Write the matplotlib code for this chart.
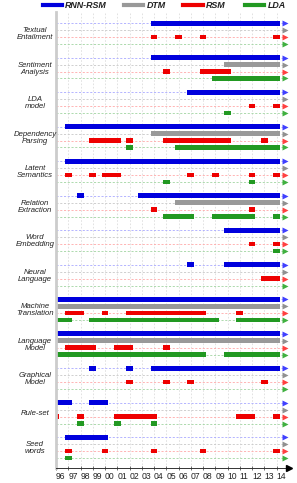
import matplotlib
matplotlib.use("Agg")
import matplotlib.pyplot as plt
import matplotlib.transforms as mtransforms
from matplotlib.lines import Line2D

plt.rcParams['font.family'] = ['Liberation Sans', 'DejaVu Sans']

categories = ["Textual\nEntailment", "Sentiment\nAnalysis", "LDA\nmodel",
              "Dependency\nParsing", "Latent\nSemantics", "Relation\nExtraction",
              "Word\nEmbedding", "Neural\nLanguage", "Machine\nTranslation",
              "Language\nModel", "Graphical\nModel", "Rule-set", "Seed\nwords"]

models = ["RNN-RSM", "DTM", "RSM", "LDA"]
years = list(range(1996, 2015))

# (first year, last year) spans per category
rnn_rsm = [
    [(2004, 2014)],
    [(2004, 2014)],
    [(2007, 2014)],
    [(1997, 2014)],
    [(1997, 2014)],
    [(1998, 1998), (2003, 2014)],
    [(2010, 2014)],
    [(2007, 2007), (2010, 2014)],
    [(1996, 2014)],
    [(1996, 2014)],
    [(1999, 1999), (2002, 2002), (2004, 2014)],
    [(1996, 1997), (1999, 2000)],
    [(1997, 2000)],
]

dtm = [
    [], [(2010, 2014)], [], [(2004, 2014)], [], [(2006, 2014)], [], [],
    [(1996, 2014)], [(1996, 2014)], [], [], [],
]

rsm = [
    [(2004, 2004), (2006, 2006), (2008, 2008), (2014, 2014)],
    [(2005, 2005), (2008, 2010)],
    [(2012, 2012), (2014, 2014)],
    [(1999, 2001), (2002, 2002), (2005, 2010), (2013, 2013)],
    [(1997, 1997), (1999, 1999), (2000, 2001), (2007, 2007), (2009, 2009),
     (2012, 2012), (2014, 2014)],
    [(2004, 2004), (2012, 2012)],
    [(2012, 2012), (2014, 2014)],
    [(2013, 2014)],
    [(1997, 1998), (2000, 2000), (2002, 2008), (2011, 2011)],
    [(1997, 1999), (2001, 2002), (2005, 2005)],
    [(2002, 2002), (2005, 2005), (2007, 2007), (2013, 2013)],
    [(1996, 1996), (1998, 1998), (2001, 2004), (2011, 2012), (2014, 2014)],
    [(1997, 1997), (2000, 2000), (2004, 2004), (2008, 2008), (2014, 2014)],
]

lda = [
    [],
    [(2009, 2014)],
    [(2010, 2010)],
    [(2002, 2002), (2006, 2014)],
    [(2005, 2005), (2012, 2012)],
    [(2005, 2007), (2009, 2012), (2014, 2014)],
    [(2014, 2014)],
    [],
    [(1996, 1997), (1999, 2009), (2011, 2014)],
    [(1996, 2008), (2010, 2014)],
    [],
    [(1998, 1998), (2001, 2001), (2004, 2004)],
    [(1997, 1997)],
]

series = [rnn_rsm, dtm, rsm, lda]
bar_colors = ['#0000dd', '#999999', '#ee0000', '#229922']
row_colors = ['#a8a8ff', '#c8c8c8', '#ffa8a8', '#a0d4a0']
arrow_colors = ['#4040ff', '#909090', '#ff4040', '#40b040']

W, H = 297, 483
fig = plt.figure(figsize=(W / 100, H / 100), dpi=100)
ax_l, ax_r, ax_t, ax_b = 56, 291, 12.3, 468.3
ax = fig.add_axes([ax_l / W, 1 - ax_b / H, (ax_r - ax_l) / W, (ax_b - ax_t) / H])

px_per_year = 12.25
ax.set_xlim(1996, 1996 + (ax_r - ax_l) / px_per_year)
row_px = 6.9
ax.set_ylim((ax_b - 23.3) / row_px, (ax_t - 23.3) / row_px)

# vertical grid
for y in years[1:]:
    ax.axvline(y, color='#dddddd', lw=0.6, ls=(0, (2, 2)), zorder=0)

hw = 0.27
x_arrow = 1996 + (285 - ax_l) / px_per_year
for i, cat in enumerate(categories):
    for r, spans in enumerate(series):
        yrow = 5 * i + r
        ax.plot([1996, x_arrow], [yrow, yrow], color=row_colors[r], lw=0.6,
                ls=(0, (2.5, 2)), zorder=1)
        ax.plot([x_arrow], [yrow], marker='>', ms=3.8, color=arrow_colors[r],
                mec='none', clip_on=False, zorder=3)
        for a, b in spans[i]:
            ax.barh(yrow, b - a + 2 * hw, left=a - hw, height=0.68,
                    color=bar_colors[r], linewidth=0, zorder=2)

trans = mtransforms.blended_transform_factory(fig.transFigure, ax.transData)
for i, cat in enumerate(categories):
    ax.text(35 / W, 5 * i + 1.6, cat, transform=trans, ha='center', va='center',
            fontsize=5.6, style='italic', linespacing=1.05, color='#222222')

ax.spines['top'].set_visible(False)
ax.spines['right'].set_visible(False)
ax.spines['left'].set_color('#cccccc')
ax.spines['left'].set_linewidth(2)
ax.spines['bottom'].set_color('#333333')
ax.spines['bottom'].set_linewidth(0.7)
ax.set_yticks([])
ax.set_xticks(years)
ax.set_xticklabels([f"{y % 100:02d}" for y in years], ha='left', fontsize=6.2,
                   color='#222222')
ax.tick_params(axis='x', direction='inout', length=3, width=0.6, pad=1,
               color='#555555')
ax.plot([1996 + (288.5 - ax_l) / px_per_year], [ax.get_ylim()[0]], marker='>',
        ms=4, color='black', clip_on=False, zorder=4)

# legend
ly = 1 - 5 / H
leg_lines = [(42.7, 61.7), (124, 143), (183, 203), (245, 264)]
leg_text = [65, 147, 206, 268]
for k, name in enumerate(models):
    x0, x1 = leg_lines[k]
    fig.add_artist(Line2D([x0 / W, x1 / W], [ly, ly], color=bar_colors[k], lw=3,
                          transform=fig.transFigure))
    fig.text(leg_text[k] / W, ly, name, ha='left', va='center', fontsize=6.4,
             style='italic', weight='bold', color='#222222')

fig.savefig("out.png", dpi=100)
